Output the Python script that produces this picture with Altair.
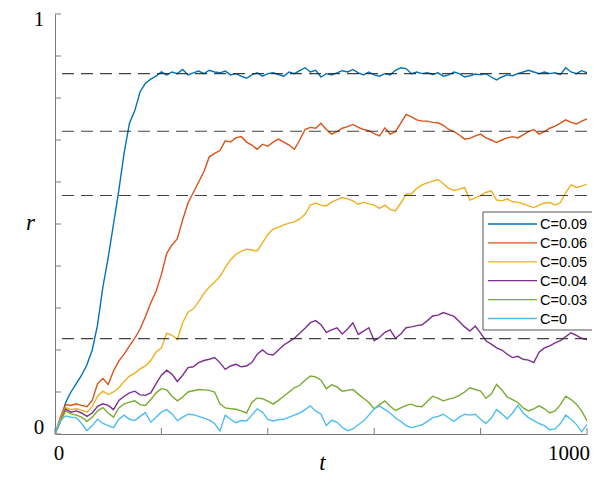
import altair as alt
import pandas as pd

# ---------------- data ----------------
t = list(range(0, 1001, 10))

names = ["C=0.09", "C=0.06", "C=0.05", "C=0.04", "C=0.03", "C=0"]
colors = ["#0072BD", "#D95319", "#EDB120", "#7E2F8E", "#77AC30", "#4DBEEE"]

r_009 = [0, 0.03, 0.075, 0.1, 0.12, 0.14, 0.165, 0.2, 0.26, 0.35,
         0.42, 0.5, 0.58, 0.67, 0.74, 0.77, 0.815, 0.835, 0.845, 0.852,
         0.862, 0.855, 0.862, 0.858, 0.868, 0.855, 0.86, 0.864, 0.858, 0.866,
         0.862, 0.86, 0.864, 0.855, 0.858, 0.852, 0.847, 0.855, 0.86, 0.852,
         0.858, 0.86, 0.856, 0.852, 0.862, 0.858, 0.865, 0.872, 0.862, 0.866,
         0.85, 0.858, 0.855, 0.86, 0.865, 0.862, 0.868, 0.86, 0.855, 0.862,
         0.855, 0.852, 0.858, 0.855, 0.866, 0.872, 0.87, 0.858, 0.862, 0.858,
         0.86, 0.856, 0.86, 0.852, 0.855, 0.862, 0.858, 0.85, 0.853, 0.857,
         0.855, 0.858, 0.85, 0.843, 0.85, 0.855, 0.853, 0.858, 0.862, 0.866,
         0.862, 0.858, 0.862, 0.858, 0.86, 0.856, 0.872, 0.862, 0.858, 0.865,
         0.86]

r_006 = [0, 0.04, 0.07, 0.068, 0.072, 0.068, 0.065, 0.08, 0.12, 0.132,
         0.118, 0.15, 0.174, 0.19, 0.21, 0.228, 0.25, 0.28, 0.312, 0.34,
         0.38, 0.43, 0.45, 0.465, 0.51, 0.55, 0.575, 0.6, 0.625, 0.66,
         0.668, 0.675, 0.698, 0.695, 0.705, 0.708, 0.695, 0.688, 0.678, 0.69,
         0.685, 0.695, 0.702, 0.695, 0.688, 0.678, 0.7, 0.725, 0.73, 0.728,
         0.74, 0.725, 0.714, 0.72, 0.728, 0.732, 0.737, 0.73, 0.725, 0.722,
         0.715, 0.71, 0.729, 0.714, 0.72, 0.74, 0.761, 0.755, 0.748, 0.745,
         0.745, 0.742, 0.741, 0.735, 0.725, 0.72, 0.712, 0.702, 0.704, 0.71,
         0.714, 0.705, 0.7, 0.694, 0.7, 0.705, 0.708, 0.705, 0.712, 0.72,
         0.725, 0.714, 0.72, 0.728, 0.733, 0.74, 0.748, 0.742, 0.738, 0.745,
         0.75]

r_005 = [0, 0.035, 0.063, 0.058, 0.06, 0.057, 0.052, 0.065, 0.09, 0.102,
         0.094, 0.1, 0.11, 0.125, 0.138, 0.145, 0.155, 0.162, 0.175, 0.195,
         0.205, 0.24, 0.235, 0.225, 0.265, 0.29, 0.298, 0.315, 0.335, 0.35,
         0.362, 0.375, 0.396, 0.415, 0.428, 0.435, 0.44, 0.438, 0.436, 0.455,
         0.475, 0.488, 0.492, 0.498, 0.502, 0.505, 0.512, 0.523, 0.545, 0.55,
         0.545, 0.543, 0.552, 0.558, 0.563, 0.56, 0.555, 0.547, 0.552, 0.548,
         0.545, 0.537, 0.545, 0.535, 0.531, 0.55, 0.571, 0.572, 0.585, 0.593,
         0.598, 0.602, 0.606, 0.596, 0.585, 0.58, 0.583, 0.587, 0.557, 0.562,
         0.568, 0.575, 0.579, 0.557, 0.555, 0.56, 0.553, 0.552, 0.548, 0.543,
         0.539, 0.545, 0.55, 0.551, 0.545, 0.551, 0.575, 0.593, 0.587, 0.59,
         0.595]

r_004 = [0, 0.03, 0.059, 0.052, 0.055, 0.05, 0.042, 0.05, 0.066, 0.072,
         0.068, 0.058, 0.08, 0.09, 0.098, 0.102, 0.093, 0.092, 0.098, 0.12,
         0.14, 0.152, 0.142, 0.125, 0.14, 0.158, 0.16, 0.17, 0.175, 0.178,
         0.182, 0.17, 0.154, 0.162, 0.166, 0.16, 0.162, 0.17, 0.19, 0.2,
         0.19, 0.188, 0.2, 0.212, 0.22, 0.228, 0.24, 0.252, 0.265, 0.27,
         0.26, 0.242, 0.248, 0.253, 0.238, 0.25, 0.265, 0.237, 0.245, 0.253,
         0.222, 0.23, 0.242, 0.248, 0.228, 0.238, 0.253, 0.255, 0.258, 0.26,
         0.27, 0.281, 0.283, 0.289, 0.285, 0.28, 0.268, 0.255, 0.245, 0.257,
         0.24, 0.222, 0.214, 0.205, 0.2, 0.19, 0.182, 0.185, 0.178, 0.176,
         0.17, 0.195, 0.205, 0.21, 0.217, 0.222, 0.232, 0.241, 0.235, 0.228,
         0.225]

r_003 = [0, 0.03, 0.055, 0.048, 0.045, 0.04, 0.03, 0.04, 0.055, 0.063,
         0.05, 0.04, 0.062, 0.072, 0.076, 0.079, 0.07, 0.068, 0.082, 0.098,
         0.108, 0.105, 0.09, 0.079, 0.088, 0.1, 0.103, 0.106, 0.105, 0.104,
         0.1, 0.072, 0.062, 0.06, 0.059, 0.055, 0.05, 0.075, 0.086, 0.084,
         0.078, 0.071, 0.08, 0.09, 0.1, 0.11, 0.116, 0.128, 0.138, 0.136,
         0.128, 0.108, 0.117, 0.112, 0.102, 0.104, 0.106, 0.095, 0.085, 0.075,
         0.06, 0.07, 0.079, 0.066, 0.056, 0.062, 0.068, 0.071, 0.066, 0.065,
         0.078, 0.09, 0.085, 0.079, 0.083, 0.086, 0.092, 0.1, 0.11, 0.106,
         0.102, 0.085, 0.095, 0.118, 0.105, 0.088, 0.082, 0.075, 0.062, 0.055,
         0.06, 0.067, 0.06, 0.05, 0.055, 0.07, 0.09, 0.082, 0.071, 0.055,
         0.031]

r_0 = [0, 0.032, 0.043, 0.04, 0.039, 0.025, 0.008, 0.02, 0.035, 0.025,
       0.02, 0.015, 0.035, 0.045, 0.035, 0.032, 0.042, 0.051, 0.028, 0.04,
       0.052, 0.058, 0.048, 0.032, 0.04, 0.047, 0.046, 0.042, 0.038, 0.033,
       0.025, 0.007, 0.045, 0.035, 0.027, 0.032, 0.031, 0.045, 0.06, 0.052,
       0.035, 0.031, 0.034, 0.035, 0.04, 0.045, 0.05, 0.058, 0.067, 0.055,
       0.047, 0.02, 0.033, 0.028, 0.016, 0.008, 0.012, 0.022, 0.031, 0.045,
       0.06, 0.067, 0.058, 0.05, 0.038, 0.03, 0.02, 0.015, 0.018, 0.022,
       0.03, 0.039, 0.042, 0.047, 0.038, 0.03, 0.04, 0.047, 0.045, 0.047,
       0.035, 0.025, 0.038, 0.058, 0.048, 0.036, 0.05, 0.068, 0.05, 0.039,
       0.032, 0.025, 0.02, 0.01, 0.012, 0.025, 0.045, 0.035, 0.023, 0.005,
       0.023]

series = [r_009, r_006, r_005, r_004, r_003, r_0]

ref_levels = [0.858, 0.721, 0.568, 0.227]

y_ticks = [0, 0.1, 0.2, 0.3, 0.4, 0.5, 0.6, 0.7, 0.8, 0.9, 1.0]
x_ticks = [0, 200, 400, 600, 800, 1000]
y_labels = [0, 1]
x_labels = [0, 1000]

# ---------------- layout ----------------
W, H = 532, 420
PAD = {"left": 47, "top": 6, "right": 5, "bottom": 39}   # svg 584 x 465
SERIF = "Liberation Serif"
SANS = "Liberation Sans"
AXIS_GREY = "#7a7a7a"

xs = alt.Scale(domain=[0, 1000], nice=False, zero=False)
ys = alt.Scale(domain=[0, 1], nice=False, zero=False)


def X(field="t"):
    return alt.X(f"{field}:Q", scale=xs, title="t")


def Y(field="r"):
    return alt.Y(f"{field}:Q", scale=ys, title="r")


layers = []

# data lines, in legend order (last drawn on top)
for name, col, vals in zip(names, colors, series):
    df = pd.DataFrame({"t": t, "r": vals})
    layers.append(
        alt.Chart(df).mark_line(color=col, strokeWidth=1.4, clip=True)
        .encode(x=X(), y=Y())
    )

# dashed reference levels
ref_df = pd.DataFrame({"r": ref_levels})
layers.append(
    alt.Chart(ref_df).mark_rule(color="#222222", strokeWidth=1.1,
                                strokeDash=[12, 7], opacity=0.85)
    .encode(y=Y())
)

# inward ticks
yt_df = pd.DataFrame({"r": y_ticks})
layers.append(
    alt.Chart(yt_df).mark_rule(color=AXIS_GREY, strokeWidth=1)
    .encode(y=Y(), x=alt.value(0), x2=alt.value(6))
)
xt_df = pd.DataFrame({"t": x_ticks})
layers.append(
    alt.Chart(xt_df).mark_rule(color=AXIS_GREY, strokeWidth=1)
    .encode(x=X(), y=alt.value(H), y2=alt.value(H - 6))
)

# tick labels
lab_style = dict(font=SERIF, fontSize=21, color="#000000", baseline="middle")
yl_df = pd.DataFrame({"r": y_labels, "txt": [str(v) for v in y_labels]})
layers.append(
    alt.Chart(yl_df).transform_filter("datum.r == 1")
    .mark_text(align="center", dy=6, **lab_style)
    .encode(y=Y(), x=alt.value(-16), text="txt:N")
)
layers.append(
    alt.Chart(yl_df).transform_filter("datum.r == 0")
    .mark_text(align="center", dy=-6, **lab_style)
    .encode(y=Y(), x=alt.value(-16), text="txt:N")
)
xl_df = pd.DataFrame({"t": x_labels, "txt": [str(v) for v in x_labels]})
layers.append(
    alt.Chart(xl_df).transform_filter("datum.t == 0")
    .mark_text(align="center", dx=4, **lab_style)
    .encode(x=X(), y=alt.value(H + 20), text="txt:N")
)
layers.append(
    alt.Chart(xl_df).transform_filter("datum.t == 1000")
    .mark_text(align="center", dx=-18, **lab_style)
    .encode(x=X(), y=alt.value(H + 20), text="txt:N")
)

# legend box (manual, MATLAB style; runs off the right edge like the original)
LX0, LY0 = 428, 198
layers.append(
    alt.Chart(pd.DataFrame({"k": [0]})).mark_rect(
        fill="white", stroke="#555555", strokeWidth=1)
    .encode(x=alt.value(LX0), x2=alt.value(LX0 + 140),
            y=alt.value(LY0), y2=alt.value(LY0 + 118))
)
for i, (name, col) in enumerate(zip(names, colors)):
    yy = LY0 + 12 + i * 18.9
    one = pd.DataFrame({"name": [name]})
    layers.append(
        alt.Chart(one).mark_rule(color=col, strokeWidth=1.3)
        .encode(x=alt.value(LX0 + 5), x2=alt.value(LX0 + 54), y=alt.value(yy))
    )
    layers.append(
        alt.Chart(one).mark_text(align="left", baseline="middle", font=SANS,
                                 fontSize=14.5, color="#000000")
        .encode(x=alt.value(LX0 + 57), y=alt.value(yy + 1), text="name:N")
    )

chart = (
    alt.layer(*layers)
    .properties(width=W, height=H,
                autosize=alt.AutoSizeParams(type="none"),
                padding=PAD)
    .configure_view(stroke=None)
    .configure_axis(grid=False, ticks=False, labels=False,
                    domainColor=AXIS_GREY, domainWidth=1,
                    titleFont=SERIF, titleFontSize=23, titleFontStyle="italic",
                    titleFontWeight="normal", titleColor="#000000")
    .configure_axisY(titleAngle=0, titleX=-25, titleY=208,
                     titleAlign="center", titleBaseline="middle")
    .configure_axisX(titleX=267, titleY=35,
                     titleAlign="center", titleBaseline="alphabetic")
)

chart.save("out.html", embed_options={"renderer": "svg", "actions": False})
